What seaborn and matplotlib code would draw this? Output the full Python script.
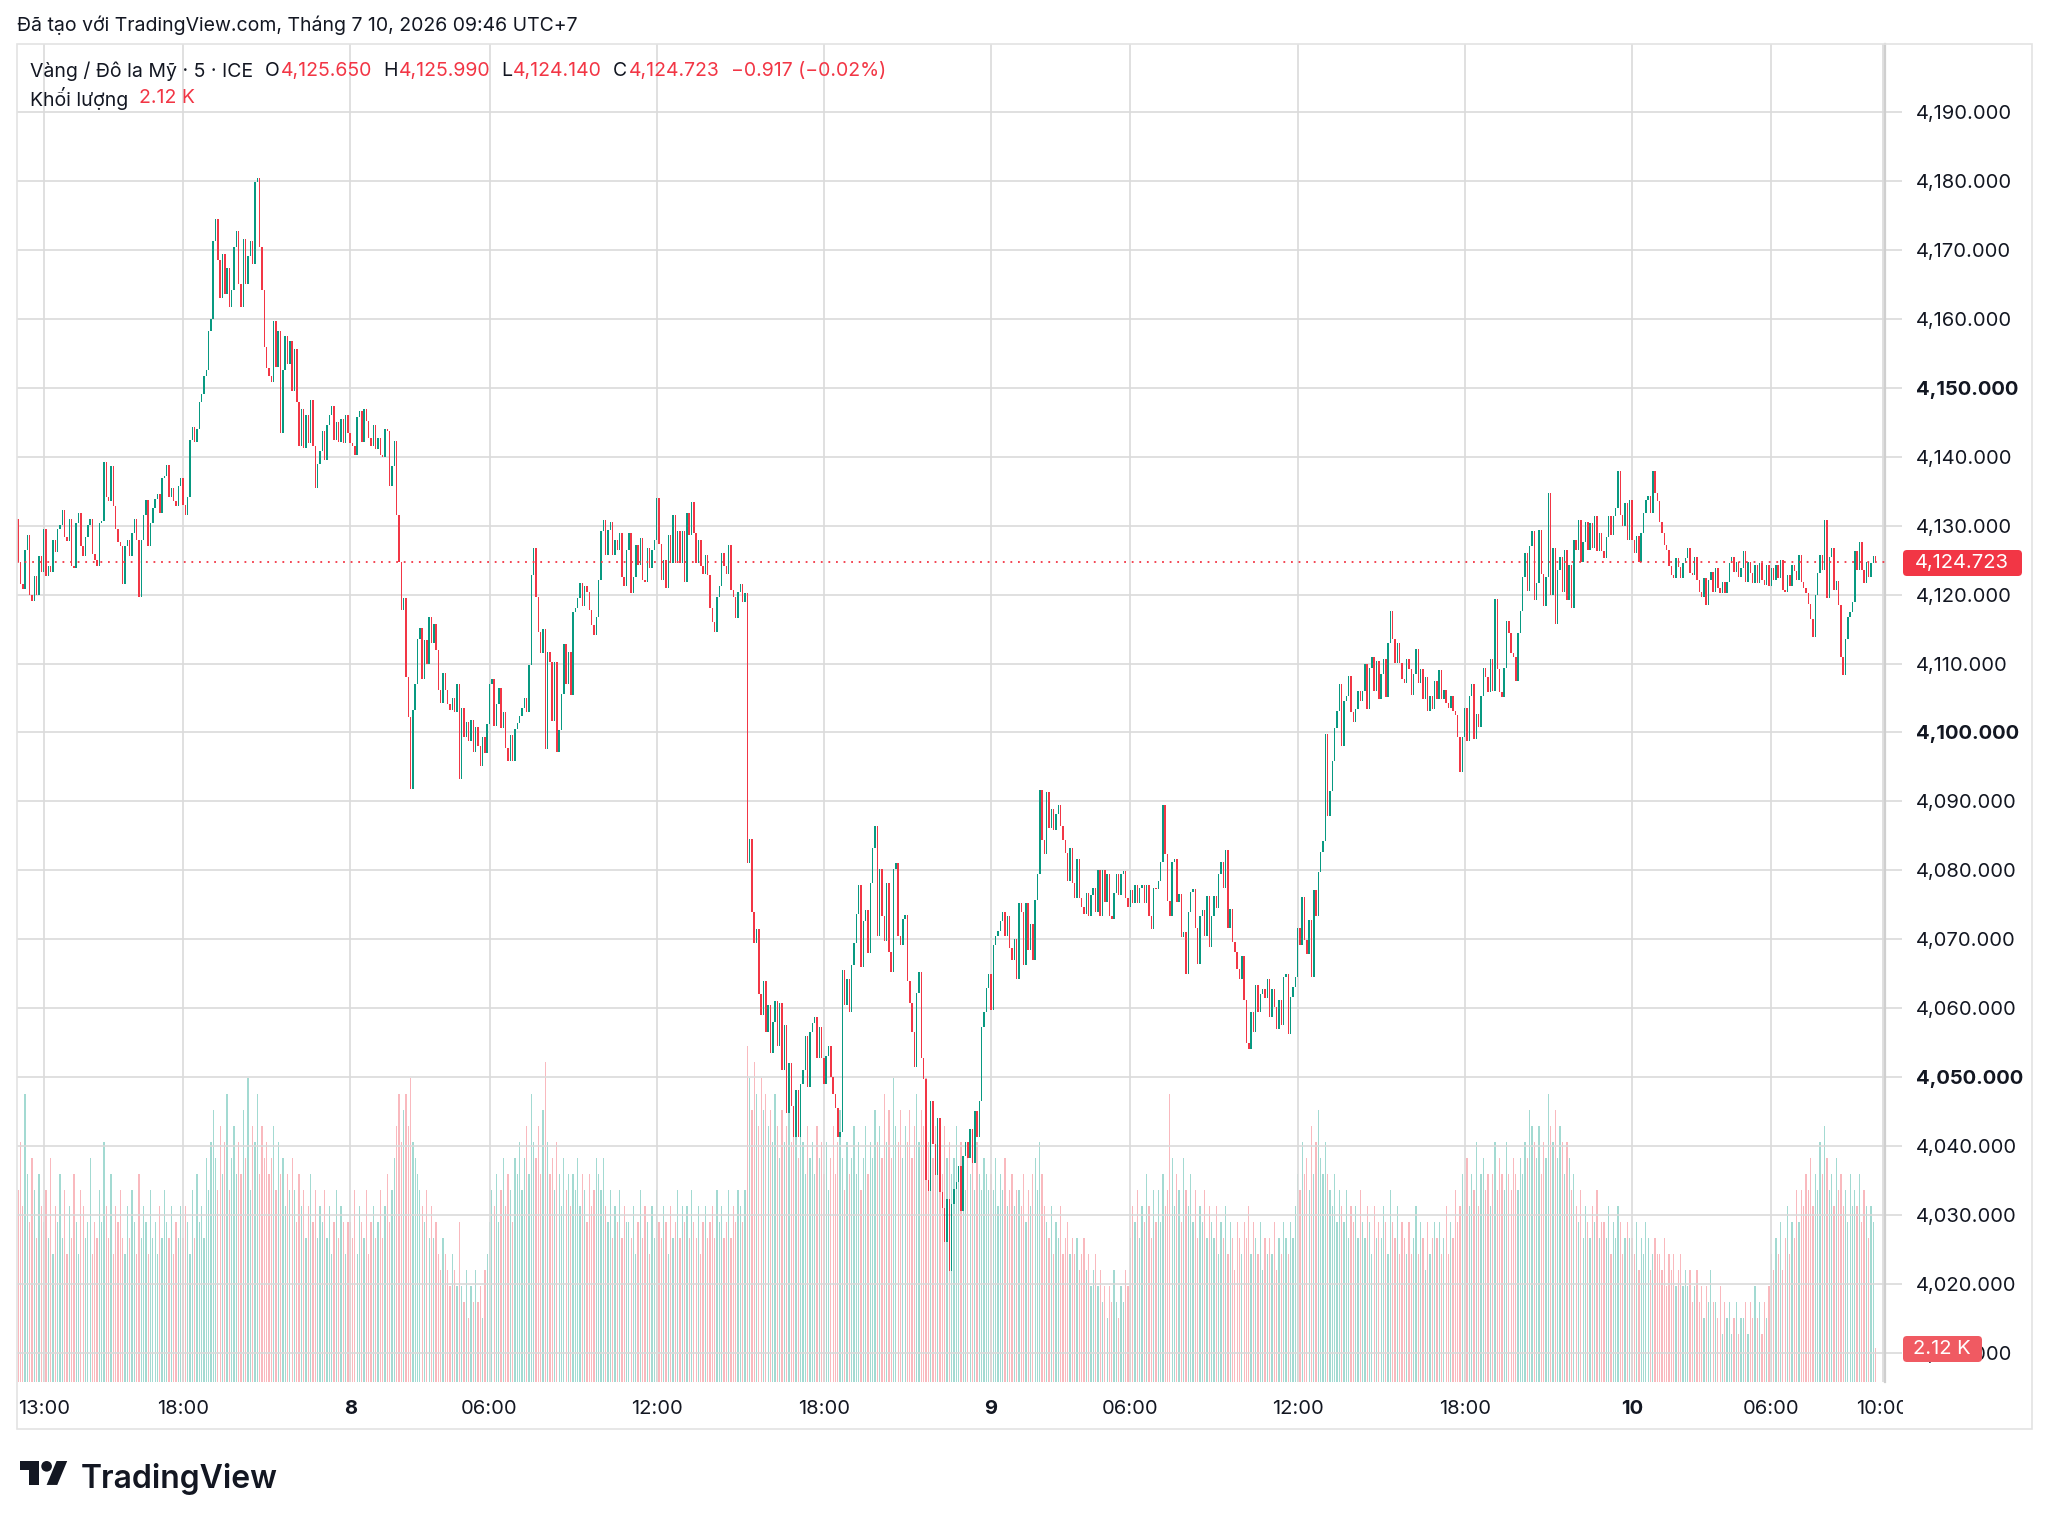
import numpy as np
import pandas as pd
import matplotlib
matplotlib.use("Agg")
import matplotlib.pyplot as plt
import seaborn as sns
from matplotlib.patches import Rectangle, FancyBboxPatch, Polygon, Circle
from matplotlib.transforms import IdentityTransform

# ---------------- data (5-minute bars, XAU/USD) ----------------
open_first = 4131.0

close_day7 = [
    4124.7, 4121.5, 4120.8, 4126.5, 4128.6, 4120.0, 4119.1, 4122.7, 4120.0, 4125.6, 4123.3,
    4129.5, 4122.7, 4124.2, 4123.3, 4128.0, 4126.2, 4129.5, 4130.1, 4132.3, 4128.3, 4127.8, 4131.0,
    4124.2, 4123.8, 4130.4, 4131.9, 4127.1, 4125.6, 4128.3, 4130.1, 4131.0, 4125.9, 4125.0, 4124.2,
    4130.4, 4130.7, 4139.3, 4134.2, 4133.6, 4138.7, 4132.8, 4129.5, 4127.7, 4127.0, 4121.5, 4127.1,
    4128.0, 4125.6, 4128.9, 4131.0, 4128.0, 4119.6, 4128.0, 4131.6, 4133.8, 4127.1, 4130.4, 4132.5,
    4133.9, 4134.6, 4131.9, 4136.9, 4137.2, 4138.8, 4134.2, 4135.5, 4133.6, 4132.8, 4135.7, 4136.9,
    4133.0, 4131.6, 4134.2, 4142.5, 4144.3, 4142.2, 4144.0, 4147.9, 4149.1, 4151.7, 4152.6, 4158.2,
    4160.0, 4171.3, 4174.5, 4168.6, 4163.0, 4169.5, 4163.6, 4167.4, 4161.8, 4164.2, 4170.4, 4172.8,
    4165.1, 4161.8, 4171.6, 4165.1, 4169.2, 4171.3, 4168.0, 4179.9, 4180.5, 4170.4, 4164.2, 4155.9,
    4152.9, 4151.7, 4150.8, 4159.7, 4153.0, 4158.2, 4143.5, 4152.6, 4157.6, 4153.5, 4156.8, 4149.6,
    4155.6, 4147.9, 4141.6, 4147.0, 4141.3, 4146.1, 4142.0, 4148.2, 4141.6, 4135.5, 4139.0, 4140.8,
    4143.7, 4139.5, 4144.6, 4146.1, 4147.3, 4142.5, 4145.0, 4142.2, 4145.5, 4142.0, 4146.0, 4143.5,
]

close_day8 = [
    4142.0, 4141.6, 4140.2, 4145.8, 4146.7, 4142.2, 4147.0, 4145.2, 4142.8, 4141.5, 4144.6, 4141.1,
    4142.8, 4140.2, 4139.9, 4144.0, 4143.7, 4135.7, 4138.7, 4142.3, 4131.6, 4124.8, 4117.8, 4119.5,
    4108.0, 4102.2, 4091.8, 4103.3, 4107.0, 4113.6, 4115.1, 4107.8, 4113.4, 4110.0, 4116.8, 4113.0,
    4115.8, 4111.9, 4106.1, 4104.3, 4108.6, 4106.1, 4104.2, 4103.2, 4105.0, 4103.0, 4107.1, 4093.3,
    4103.5, 4099.4, 4101.5, 4098.8, 4101.8, 4097.2, 4100.8, 4098.0, 4095.2, 4099.3, 4097.0, 4101.2,
    4107.1, 4107.8, 4101.0, 4104.2, 4106.5, 4100.6, 4103.0, 4097.8, 4095.9, 4099.6, 4095.9, 4100.5,
    4101.4, 4102.4, 4103.6, 4105.0, 4102.9, 4109.8, 4122.9, 4126.7, 4119.7, 4114.6, 4111.5, 4115.0,
    4097.6, 4111.7, 4110.2, 4101.7, 4110.2, 4097.1, 4100.3, 4105.6, 4112.9, 4107.1, 4111.7, 4105.4,
    4117.5, 4118.0, 4119.5, 4121.7, 4118.3, 4121.2, 4120.4, 4117.8, 4115.6, 4114.1, 4116.8, 4122.1,
    4129.2, 4130.9, 4125.8, 4129.4, 4130.6, 4125.8, 4128.0, 4126.5, 4128.9, 4122.6, 4121.2, 4126.5,
    4128.9, 4120.2, 4122.5, 4127.2, 4124.3, 4128.2, 4122.1, 4121.8, 4126.7, 4123.8, 4126.5, 4128.0,
    4134.0, 4127.4, 4122.1, 4125.0, 4120.9, 4128.6, 4124.6, 4131.6, 4124.6, 4129.2, 4124.6, 4129.2,
    4121.9, 4131.8, 4128.7, 4133.5, 4128.9, 4124.6, 4128.0, 4124.1, 4123.0, 4125.8, 4122.9, 4118.0,
    4116.1, 4114.6, 4119.7, 4121.2, 4126.0, 4124.1, 4123.0, 4127.2, 4120.7, 4119.7, 4116.6, 4120.4,
    4121.5, 4119.0, 4120.2, 4081.0, 4084.5, 4074.0, 4069.5, 4071.5, 4062.0, 4059.0, 4064.0, 4056.5,
    4060.5, 4053.5, 4058.0, 4061.1, 4054.5, 4060.8, 4051.0, 4057.5, 4044.8, 4052.0, 4045.8, 4041.3,
    4048.1, 4041.3, 4049.0, 4051.0, 4056.0, 4048.6, 4056.6, 4057.9, 4058.7, 4052.8, 4057.3, 4052.8,
    4049.0, 4053.0, 4054.5, 4050.0, 4047.6, 4045.5, 4041.3, 4042.0, 4065.6, 4060.4, 4064.2, 4059.4,
    4066.3, 4069.4, 4073.6, 4077.8, 4066.0, 4072.6, 4074.3, 4068.0, 4078.1, 4083.3, 4086.5, 4070.5,
    4080.2, 4073.3, 4069.8, 4078.1, 4068.1, 4065.3, 4080.2, 4081.0, 4070.5, 4069.1, 4072.9, 4073.5,
    4063.9, 4060.8, 4056.6, 4051.4, 4062.2, 4065.3, 4052.8, 4049.7, 4035.1, 4033.4, 4046.5, 4040.3,
    4035.8, 4044.1, 4033.3, 4031.0, 4026.0, 4032.3, 4021.9, 4031.6, 4033.7, 4034.7, 4037.1, 4030.6,
    4038.5, 4040.6, 4038.3, 4042.4, 4037.5, 4045.1, 4041.3, 4046.5, 4057.3, 4059.4, 4062.9, 4064.9,
]

close_day9 = [
    4059.8, 4069.1, 4070.5, 4071.2, 4072.6, 4074.0, 4070.5, 4073.3, 4068.7, 4067.0, 4070.1, 4064.2,
    4075.3, 4074.0, 4066.3, 4075.3, 4068.4, 4072.2, 4067.0, 4075.7, 4079.5, 4091.7, 4084.4, 4082.3,
    4091.3, 4086.1, 4088.9, 4085.8, 4088.2, 4089.5, 4086.5, 4084.4, 4082.5, 4078.5, 4083.3, 4078.1,
    4076.0, 4081.7, 4076.0, 4074.7, 4073.6, 4076.7, 4073.3, 4076.4, 4077.5, 4073.9, 4080.0, 4073.3,
    4080.0, 4075.4, 4079.5, 4073.3, 4072.9, 4076.7, 4079.5, 4076.4, 4079.5, 4079.9, 4076.0, 4074.7,
    4077.1, 4075.3, 4077.8, 4075.3, 4077.4, 4077.8, 4075.3, 4077.8, 4073.3, 4071.5, 4077.4, 4077.3,
    4078.5, 4081.2, 4089.5, 4082.4, 4075.6, 4073.4, 4081.2, 4081.6, 4075.4, 4076.5, 4070.3, 4071.0,
    4065.0, 4073.9, 4076.8, 4077.3, 4071.7, 4066.4, 4073.4, 4074.2, 4070.5, 4076.3, 4068.8, 4073.4,
    4076.3, 4074.6, 4079.5, 4081.2, 4077.5, 4082.9, 4071.7, 4074.4, 4069.6, 4068.1, 4065.7, 4064.2,
    4067.6, 4061.2, 4055.0, 4054.1, 4059.4, 4056.5, 4063.3, 4059.4, 4062.1, 4062.8, 4061.4, 4064.2,
    4058.7, 4062.8, 4060.1, 4057.0, 4061.2, 4057.5, 4064.5, 4065.0, 4056.3, 4061.6, 4063.0, 4064.5,
    4071.7, 4069.1, 4076.1, 4069.9, 4067.8, 4072.8, 4064.5, 4077.1, 4073.4, 4079.7, 4082.6, 4084.3,
    4099.8, 4087.9, 4091.5, 4095.9, 4100.7, 4103.1, 4107.0, 4098.1, 4104.6, 4105.3, 4108.2, 4102.9,
    4101.5, 4103.4, 4106.0, 4104.5, 4106.0, 4109.9, 4103.4, 4109.4, 4110.9, 4106.0, 4110.4, 4104.8,
    4108.5, 4110.6, 4105.1, 4113.0, 4117.6, 4113.5, 4110.1, 4113.0, 4110.1, 4107.7, 4107.2, 4110.6,
    4109.2, 4105.5, 4108.5, 4112.1, 4107.2, 4109.2, 4104.8, 4108.0, 4103.1, 4105.3, 4103.4, 4107.5,
    4104.8, 4109.0, 4104.8, 4106.2, 4104.3, 4103.6, 4105.3, 4103.1, 4102.5, 4099.3, 4094.2, 4099.3,
    4103.6, 4098.8, 4105.3, 4107.0, 4099.0, 4102.7, 4100.8, 4105.3, 4109.4, 4108.0, 4105.8, 4110.6,
    4106.0, 4119.3, 4109.2, 4105.8, 4105.1, 4109.4, 4116.2, 4114.5, 4111.6, 4110.9, 4107.5, 4114.5,
    4117.6, 4122.5, 4126.0, 4120.5, 4127.0, 4129.2, 4119.2, 4121.7, 4129.4, 4123.0, 4118.3, 4122.6,
    4134.8, 4120.0, 4126.7, 4115.8, 4123.6, 4125.5, 4120.4, 4126.5, 4119.2, 4124.3, 4118.0, 4128.0,
    4126.5, 4130.9, 4124.8, 4127.7, 4130.6, 4126.5, 4130.4, 4126.8, 4131.4, 4126.3, 4128.9, 4126.3,
    4125.3, 4128.4, 4131.4, 4128.7, 4131.4, 4132.6, 4137.9, 4131.6, 4130.0, 4133.3, 4128.0, 4133.8,
]

close_day10 = [
    4128.0, 4126.0, 4128.5, 4124.8, 4128.9, 4131.8, 4133.8, 4134.3, 4131.8, 4137.9, 4134.8, 4133.6,
    4130.6, 4129.0, 4127.2, 4126.5, 4124.1, 4122.9, 4122.4, 4125.3, 4124.0, 4122.4, 4124.6, 4125.3,
    4126.7, 4123.1, 4122.9, 4125.5, 4122.1, 4120.4, 4119.7, 4122.4, 4118.5, 4122.1, 4123.3, 4120.4,
    4123.8, 4121.0, 4120.2, 4121.9, 4120.2, 4121.9, 4124.6, 4125.5, 4123.3, 4124.8, 4122.6, 4123.8,
    4126.3, 4121.9, 4124.8, 4123.1, 4121.7, 4124.3, 4121.7, 4124.6, 4122.1, 4121.4, 4124.3, 4121.2,
    4123.8, 4122.1, 4124.3, 4122.4, 4125.0, 4120.7, 4120.4, 4122.9, 4121.2, 4124.3, 4123.5, 4122.1,
    4125.8, 4121.9, 4121.0, 4120.2, 4118.7, 4116.5, 4113.9, 4120.0, 4123.1, 4125.8, 4123.6, 4130.8,
    4119.5, 4125.5, 4126.7, 4120.7, 4122.0, 4118.5, 4111.0, 4108.3, 4113.6, 4116.8, 4117.5, 4119.0,
    4126.3, 4123.6, 4127.7, 4123.6, 4121.7, 4124.8, 4122.5, 4124.6, 4125.65, 4124.723,
]

# volume in thousands
vol_day7 = [
    12, 15, 11, 18, 13, 10, 14, 12, 9, 13, 11,
    10, 12, 9, 14, 8, 11, 10, 13, 9, 12, 8, 11,
    9, 13, 10, 8, 12, 11, 9, 10, 14, 8, 10, 9,
    12, 10, 15, 11, 9, 13, 8, 11, 10, 12, 9, 8,
    11, 9, 12, 10, 8, 13, 9, 11, 10, 8, 12, 9,
    10, 8, 11, 9, 12, 10, 9, 11, 8, 10, 9, 11,
    9, 11, 10, 8, 12, 9, 13, 10, 11, 9, 14, 12,
    15, 17, 14, 12, 16, 13, 15, 18, 12, 14, 16, 13,
    15, 13, 17, 14, 19, 12, 16, 15, 18, 13, 16, 14,
    15, 13, 14, 16, 12, 15, 13, 14, 11, 13, 12, 14,
    12, 10, 13, 11, 12, 9, 11, 13, 10, 12, 9, 11,
    10, 12, 9, 11, 8, 10, 12, 9, 11, 10, 8, 10,
]
vol_day8 = [
    10, 9, 12, 8, 11, 10, 9, 12, 8, 10, 11, 9,
    10, 12, 9, 11, 13, 10, 12, 14, 16, 18, 15, 17,
    18, 16, 19, 15, 14, 13, 12, 11, 10, 12, 9, 11,
    9, 10, 8, 7, 9, 8, 7, 6, 8, 7, 6, 10,
    6, 5, 7, 4, 6, 5, 7, 5, 6, 4, 7, 8,
    10, 12, 11, 13, 10, 12, 14, 11, 13, 12, 10, 14,
    13, 15, 12, 14, 16, 13, 18, 15, 14, 16, 13, 17,
    20, 15, 13, 14, 12, 15, 13, 11, 14, 12, 13, 11,
    13, 12, 14, 11, 13, 12, 10, 13, 11, 12, 14, 13,
    12, 14, 11, 10, 12, 9, 11, 10, 12, 9, 11, 10,
    10, 9, 11, 8, 10, 12, 9, 11, 10, 8, 11, 9,
    12, 10, 9, 11, 10, 8, 11, 9, 10, 12, 9, 11,
    10, 11, 9, 12, 10, 9, 11, 8, 10, 11, 9, 10,
    11, 9, 12, 10, 11, 9, 10, 12, 9, 11, 10, 12,
    11, 10, 12, 21, 19, 17, 20, 18, 16, 19, 17, 18,
    16, 17, 15, 18, 16, 14, 17, 15, 16, 18, 15, 17,
    16, 14, 17, 15, 13, 16, 14, 15, 13, 16, 14, 15,
    13, 15, 12, 14, 16, 13, 15, 17, 14, 12, 15, 13,
    14, 16, 13, 15, 12, 14, 16, 13, 15, 14, 17, 15,
    16, 14, 18, 15, 17, 14, 19, 16, 15, 17, 14, 16,
    15, 17, 14, 16, 18, 15, 17, 16, 19, 15, 17, 14,
    16, 14, 15, 13, 16, 14, 15, 13, 14, 16, 13, 15,
    14, 12, 15, 13, 14, 12, 15, 13, 12, 14, 13, 12,
]
vol_day9 = [
    13, 12, 14, 11, 13, 12, 14, 11, 12, 13, 11, 12,
    12, 11, 13, 10, 12, 11, 13, 14, 12, 15, 13, 11,
    10, 9, 11, 8, 10, 9, 11, 8, 9, 10, 8, 9,
    8, 9, 7, 8, 9, 7, 8, 6, 7, 8, 6, 7,
    5, 6, 4, 6, 5, 7, 5, 4, 6, 5, 7, 6,
    9, 11, 10, 12, 9, 11, 10, 13, 11, 9, 12, 10,
    12, 10, 13, 11, 12, 18, 14, 11, 13, 12, 10, 14,
    12, 11, 13, 10, 12, 9, 11, 10, 12, 9, 11, 10,
    9, 11, 8, 10, 9, 11, 8, 10, 9, 7, 10, 9,
    8, 10, 9, 11, 8, 10, 9, 8, 10, 7, 9, 8,
    9, 8, 10, 7, 9, 8, 10, 9, 8, 10, 9, 11,
    13, 12, 15, 13, 14, 12, 16, 13, 15, 17, 14, 13,
    15, 13, 12, 11, 13, 10, 12, 11, 10, 12, 9, 11,
    10, 11, 9, 12, 10, 9, 11, 10, 8, 11, 9, 10,
    9, 11, 10, 8, 12, 10, 9, 11, 8, 10, 9, 8,
    10, 8, 9, 11, 8, 10, 9, 7, 10, 8, 9, 10,
    9, 10, 8, 9, 11, 8, 10, 9, 12, 10, 11, 13,
    12, 14, 11, 13, 12, 15, 11, 13, 14, 12, 13, 11,
    13, 15, 12, 14, 13, 12, 15, 13, 12, 14, 13, 12,
    14, 13, 15, 14, 17, 16, 15, 14, 16, 13, 15, 14,
    18, 16, 15, 17, 14, 16, 15, 13, 15, 14, 12, 13,
    11, 10, 12, 9, 11, 10, 9, 11, 10, 12, 9, 10,
    10, 9, 11, 8, 10, 9, 11, 10, 8, 9, 10, 9,
]
vol_day10 = [
    9, 8, 10, 7, 9, 8, 10, 9, 7, 8, 9, 8,
    8, 7, 9, 6, 8, 7, 8, 6, 7, 8, 6, 7,
    6, 7, 5, 6, 7, 5, 6, 4, 6, 5, 7, 5,
    5, 4, 6, 3, 5, 4, 5, 3, 4, 5, 3, 4,
    4, 5, 3, 5, 4, 6, 4, 5, 3, 5, 4, 6,
    8, 7, 9, 8, 10, 7, 9, 11, 8, 10, 9, 12,
    10, 12, 11, 13, 12, 14, 11, 13, 12, 15, 13, 16,
    14, 12, 13, 11, 14, 12, 13, 11, 12, 10, 13, 11,
    12, 11, 13, 10, 12, 11, 9, 11, 10, 2.12,
]

tick_pos = [11, 71, 143, 203, 275, 347, 419, 479, 551, 623, 695, 755, 803]
tick_lbl = ["13:00", "18:00", "8", "06:00", "12:00", "18:00", "9", "06:00",
            "12:00", "18:00", "10", "06:00", "10:00"]
price_ticks = list(range(4010, 4191, 10))

legend_head = "Vàng / Đô la Mỹ · 5 · ICE"
ohlc_vals = ["4,125.650", "4,125.990", "4,124.140", "4,124.723"]
change_txt = "−0.917 (−0.02%)"
last_price = 4124.723
last_vol_txt = "2.12 K"

# ---------------- prep ----------------
closes = np.array(close_day7 + close_day8 + close_day9 + close_day10, dtype=float)
vols = np.array(vol_day7 + vol_day8 + vol_day9 + vol_day10, dtype=float)
opens = np.concatenate([[open_first], closes[:-1]])
n = len(closes)
idx = np.arange(n)
up = closes >= opens

GREEN = "#089981"
RED = "#F23645"
DARK = "#131722"
GRID = "#DADADA"

sns.set_theme(style="white")
plt.rcParams["font.family"] = ["Inter", "Noto Sans", "DejaVu Sans"]

W, H = 2048, 1529
fig = plt.figure(figsize=(W / 100, H / 100), dpi=100, facecolor="white")


def fx(px):
    return px / W


def fy(py):
    return 1 - py / H


L, R, T, B = 17, 1885, 44, 1382
rect = [fx(L), fy(B), fx(R - L), (B - T) / H]
axv = fig.add_axes(rect)
ax = fig.add_axes(rect)
ax.patch.set_visible(False)

# volume (seaborn)
vdf = pd.DataFrame({"i": idx, "v": vols, "d": np.where(up, "up", "down")})
sns.barplot(data=vdf, x="i", y="v", hue="d", native_scale=True, dodge=False,
            palette={"up": "#A3DAD2", "down": "#F9B9BE"}, width=0.55,
            errorbar=None, legend=False, saturation=1, linewidth=0, ax=axv)
axv.set_xlim(-0.5, 804.0)
axv.set_ylim(0, 83.6)
axv.set_xlabel("")
axv.set_ylabel("")
axv.set_xticks([])
axv.set_yticks([])
for s in axv.spines.values():
    s.set_visible(False)

# candles
lo = np.minimum(opens, closes)
hi = np.maximum(opens, closes)
hgt = np.maximum(hi - lo, 0.15)
ax.bar(idx, hgt, bottom=lo, width=0.62, color=np.where(up, GREEN, RED),
       linewidth=0, zorder=3)

ax.set_xlim(-0.5, 804.0)
ax.set_ylim(4005.75, 4199.9)

ax.set_xticks(tick_pos)
ax.set_xticklabels(tick_lbl)
for lab in ax.get_xticklabels():
    if lab.get_text() in ("8", "9", "10"):
        lab.set_fontweight("bold")
ax.tick_params(axis="x", length=0, pad=13, labelsize=14.5, labelcolor=DARK)

ax.set_yticks(price_ticks)
ax.set_yticklabels([f"{p:,.3f}" for p in price_ticks])
ax.yaxis.tick_right()
for lab, p in zip(ax.get_yticklabels(), price_ticks):
    if p % 50 == 0:
        lab.set_fontweight("bold")
ax.tick_params(axis="y", length=12, width=1.2, color=GRID, pad=10,
               labelsize=14.5, labelcolor=DARK)
ax.grid(True, color=GRID, linewidth=1.2, zorder=0)
ax.set_axisbelow(True)
for name, s in ax.spines.items():
    s.set_visible(name == "right")
ax.spines["right"].set_color("#CFCFCF")
ax.spines["right"].set_linewidth(1.6)

# last price dotted line
ax.axhline(last_price, color=RED, linewidth=1.3, linestyle=(0, (1, 3.2)), zorder=4)

# outer frame
fig.add_artist(Rectangle((fx(L), fy(1429)), fx(2032 - L), (1429 - T) / H,
                         transform=fig.transFigure, fill=False,
                         edgecolor="#E3E3E3", linewidth=1.2, zorder=1))

# cover clipped part of last time label
fig.add_artist(Rectangle((fx(1903), fy(1424)), fx(120), 30 / H,
                         transform=fig.transFigure, facecolor="white",
                         edgecolor="none", zorder=6))


def pix_box(x0, y0, x1, y1, color):
    return FancyBboxPatch((x0, H - y1), x1 - x0, y1 - y0,
                          boxstyle="round,pad=0,rounding_size=4",
                          transform=IdentityTransform(), facecolor=color,
                          edgecolor="none", zorder=8)


fig.add_artist(pix_box(1903, 550, 2022, 576, RED))
fig.text(fx(1962), fy(563), f"{last_price:,.3f}", color="white", fontsize=14.5,
         ha="center", va="center", zorder=9)
fig.add_artist(pix_box(1903, 1336, 1982, 1362, "#F05A62"))
fig.text(fx(1942), fy(1349), last_vol_txt, color="white", fontsize=14.5,
         ha="center", va="center", zorder=9)

# header texts
fig.text(fx(17), fy(25), "Đã tạo với TradingView.com, Tháng 7 10, 2026 09:46 UTC+7",
         color=DARK, fontsize=14, ha="left", va="center")

renderer = fig.canvas.get_renderer()


def seq(x, y, parts, size=14):
    for txt, col, gap in parts:
        t = fig.text(fx(x), fy(y), txt, color=col, fontsize=size, ha="left",
                     va="center", zorder=7)
        bb = t.get_window_extent(renderer)
        x = x + bb.width + gap


seq(30, 71, [(legend_head, DARK, 12),
             ("O", DARK, 1), (ohlc_vals[0], RED, 11),
             ("H", DARK, 1), (ohlc_vals[1], RED, 11),
             ("L", DARK, 1), (ohlc_vals[2], RED, 11),
             ("C", DARK, 1), (ohlc_vals[3], RED, 12),
             (change_txt, RED, 0)])
seq(30, 98, [("Khối lượng", DARK, 11), (last_vol_txt, RED, 0)])

# TradingView logo
s = 1.33
ox, oy = 20, 1461


def lp(u, v):
    return ((ox + u * s) / W, 1 - (oy + (v - 4) * s) / H)


fig.add_artist(Polygon([lp(0, 4), lp(14, 4), lp(14, 22), lp(7, 22), lp(7, 11), lp(0, 11)],
                       closed=True, transform=fig.transFigure, facecolor=DARK,
                       edgecolor="none"))
fig.add_artist(Polygon([lp(20, 22), lp(27.5, 4), lp(35.5, 4), lp(28, 22)],
                       closed=True, transform=fig.transFigure, facecolor=DARK,
                       edgecolor="none"))
cx, cy = lp(20, 8)
fig.add_artist(Circle((cx * W, cy * H), 4 * s, transform=IdentityTransform(),
                      facecolor=DARK, edgecolor="none"))
fig.text(fx(81), fy(1479), "TradingView", color=DARK, fontsize=23,
         fontweight="semibold", ha="left", va="center")

fig.savefig("out.png", dpi=100, facecolor="white")
